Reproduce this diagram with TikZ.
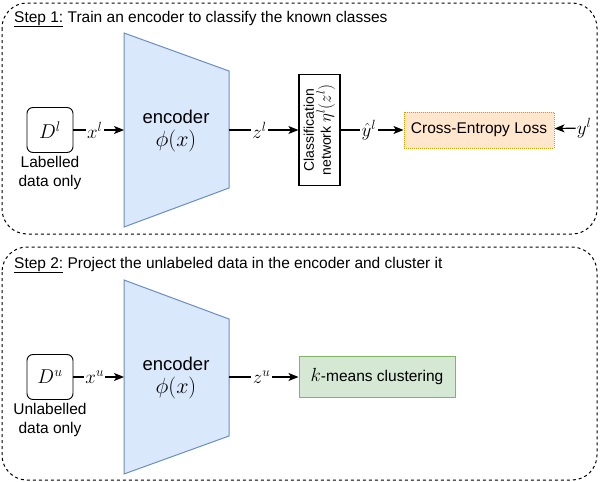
\RequirePackage{fix-cm}
\documentclass[tikz,border=0pt]{standalone}
\usepackage{fontspec}
\setmainfont{Liberation Sans}
\usetikzlibrary{arrows.meta}
\definecolor{encfill}{HTML}{DAE8FC}
\definecolor{encdraw}{HTML}{6C8EBF}
\definecolor{cefill}{HTML}{FFE6CC}
\definecolor{cedraw}{HTML}{D79B00}
\definecolor{kmfill}{HTML}{D5E8D4}
\definecolor{kmdraw}{HTML}{82B366}
\newcommand{\msz}[2]{{\fontsize{#1}{#1}\selectfont$#2$}}
\begin{document}
\begin{tikzpicture}[x=1pt,y=-1pt,
  font=\fontsize{15.5}{18}\selectfont,
  stepframe/.style={draw, dash pattern=on 3pt off 3pt, rounded corners=25pt, line width=1pt},
  steptitle/.style={anchor=west, inner sep=0pt},
  databox/.style={draw, rounded corners=6pt, minimum width=46pt, minimum height=45pt, line width=0.9pt, inner sep=0pt, font=\fontsize{20}{22}\selectfont},
  datalabel/.style={align=center, inner sep=0pt, font=\fontsize{15.5}{19}\selectfont},
  encshape/.style={fill=encfill, draw=encdraw, line width=1pt},
  enctext/.style={align=center, inner sep=0pt, font=\fontsize{18.5}{23}\selectfont},
  arr/.style={-{Stealth[length=10pt,width=8pt,inset=2.5pt]}, line width=1.2pt},
  elabel/.style={fill=white, inner sep=1.5pt, font=\fontsize{19}{20}\selectfont},
  clsbox/.style={draw, line width=1.2pt, rotate=90, minimum width=111pt, minimum height=41pt, inner sep=0pt, align=center, font=\fontsize{14}{17}\selectfont},
  cebox/.style={draw=cedraw, fill=cefill, dash pattern=on 1pt off 1pt, line width=1pt, minimum width=150pt, minimum height=36pt, inner sep=0pt},
  kmbox/.style={draw=kmdraw, fill=kmfill, line width=1pt, minimum width=156pt, minimum height=41pt, inner sep=0pt}
]
\useasboundingbox (0,0) rectangle (600,482);
\fill[white] (0,0) rectangle (600,482);

% ---------- Step 1 ----------
\draw[stepframe] (2,3) rectangle (597,234);
\node[steptitle] (t1) at (14,19) {\underline{Step 1:} Train an encoder to classify the known classes};

\node[databox] (D1) at (50,130) {$D^l$};
\node[datalabel] (L1) at (50,173) {Labelled\\data only};

\filldraw[encshape] (124,33) -- (229,71) -- (229,188) -- (124,227) -- cycle;
\node[enctext] (enc1) at (176,131) {encoder\\\msz{22}{\phi(x)}};
\coordinate (e1in) at (124,130);
\coordinate (e1out) at (229,130);

\node[clsbox] (cls) at (319.5,130) {Classification\\network \msz{17}{\eta^l(z^l)}};
\node[cebox] (ce) at (479,130) {Cross-Entropy Loss};
\node[inner sep=1pt, font=\fontsize{19}{20}\selectfont] (yl) at (584,128) {$y^l$};

\draw[arr] (D1) -- node[elabel, pos=0.42] {$x^l$} (e1in);
\draw[arr] (e1out) -- node[elabel, pos=0.44] {$z^l$} (cls.north);
\draw[arr] (cls.south) -- node[elabel, pos=0.45] {$\hat{y}^l$} (ce);
\draw[arr] (yl) -- (ce);

% ---------- Step 2 ----------
\draw[stepframe] (2,247) rectangle (597,480);
\node[steptitle] (t2) at (14,265) {\underline{Step 2:} Project the unlabeled data in the encoder and cluster it};

\node[databox] (D2) at (50,377) {$D^u$};
\node[datalabel] (L2) at (50,420) {Unlabelled\\data only};

\filldraw[encshape] (124,280) -- (229,319) -- (229,436) -- (124,474) -- cycle;
\node[enctext] (enc2) at (176,378) {encoder\\\msz{22}{\phi(x)}};
\coordinate (e2in) at (124,377);
\coordinate (e2out) at (229,377);

\node[kmbox] (km) at (377,377) {\msz{19}{k}-means clustering};

\draw[arr] (D2) -- node[elabel, pos=0.42] {$x^u$} (e2in);
\draw[arr] (e2out) -- node[elabel, pos=0.47] {$z^u$} (km);
\end{tikzpicture}
\end{document}
